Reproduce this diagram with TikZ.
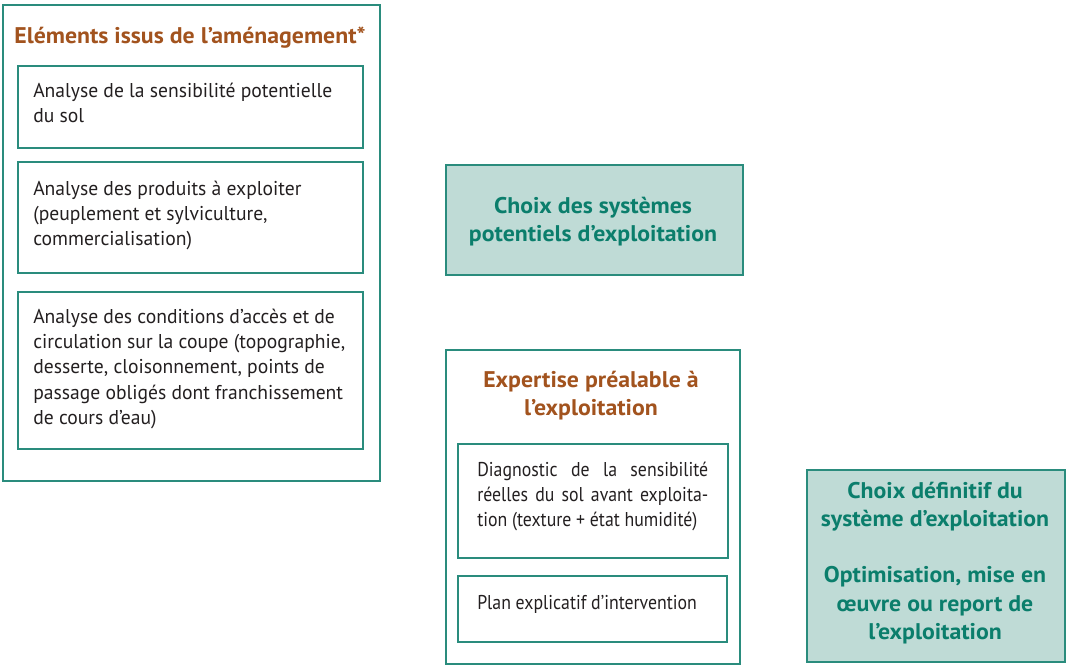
\documentclass[tikz,border=0pt]{standalone}
\usepackage{fontspec}
\setmainfont[FakeStretch=0.98,BoldFeatures={FakeStretch=1.05}]{PT Sans}
\newfontfamily\diagfont[FakeStretch=0.89]{PT Sans}
\definecolor{tealline}{HTML}{2A8C7D}
\definecolor{greenfill}{HTML}{BFDBD6}
\definecolor{tealtext}{HTML}{0B7E6C}
\definecolor{browntext}{HTML}{A2531E}
\definecolor{bodytext}{HTML}{231F20}
\begin{document}
\begin{tikzpicture}[x=0.75pt,y=-0.75pt,
  frame/.style={draw=tealline, line width=1.2pt, inner sep=0pt, anchor=north west},
  greenbox/.style={frame, fill=greenfill},
  body/.style={inner sep=0pt, text=bodytext, anchor=base west, font=\fontsize{15}{19.1}\selectfont},
  head/.style={inner sep=0pt, anchor=base, font=\fontsize{17}{21.2}\selectfont\bfseries},
  brownhead/.style={head, text=browntext},
  tealhead/.style={head, text=tealtext}]
\useasboundingbox (0,0) rectangle (1066,664);
% boxes
\node[frame, minimum width=282.75pt, minimum height=357pt] (outA) at (2,4) {};
\node[frame, minimum width=258.75pt, minimum height=61.5pt] (a1) at (17,65) {};
\node[frame, minimum width=258.75pt, minimum height=83.25pt] (a2) at (17,161) {};
\node[frame, minimum width=258.75pt, minimum height=117.75pt] (a3) at (17,291) {};
\node[greenbox, minimum width=222.75pt, minimum height=82.5pt] (b) at (445,164) {};
\node[frame, minimum width=220.5pt, minimum height=235.5pt] (outC) at (445,349) {};
\node[frame, minimum width=202.5pt, minimum height=85.5pt] (c1) at (457,443) {};
\node[frame, minimum width=201.75pt, minimum height=49.5pt] (c2) at (457,575) {};
\node[greenbox, minimum width=193.5pt, minimum height=144pt] (d) at (806,469) {};
% texts
\node[brownhead] (tA) at (190,43) {Eléments issus de l’aménagement*};
\node[body] (ta1) at (33,97) {\parbox[t]{250pt}{Analyse de la sensibilité potentielle\\du sol}};
\node[body] (ta2) at (33,195) {\parbox[t]{250pt}{Analyse des produits à exploiter\\(peuplement et sylviculture,\\commercialisation)}};
\node[body] (ta3) at (33,323) {\parbox[t]{250pt}{Analyse des conditions d’accès et de\\circulation sur la coupe (topographie,\\desserte, cloisonnement, points de\\passage obligés dont franchissement\\de cours d’eau)}};
\node[tealhead] (tb) at (593,213) {\parbox[t]{210pt}{\centering Choix des systèmes\\potentiels d’exploitation}};
\node[brownhead] (tC) at (591,387) {\parbox[t]{210pt}{\centering Expertise préalable à\\l’exploitation}};
\node[body] (tc1) at (477,476) {\parbox[t]{173.25pt}{\diagfont\makebox[\linewidth][s]{Diagnostic de la sensibilité}\\\makebox[\linewidth][s]{réelles du sol avant exploita-}\\\mbox{tion (texture + état humidité)}}};
\node[body] (tc2) at (477,609) {\diagfont Plan explicatif d’intervention};
\node[tealhead] (td) at (935,498) {\parbox[t]{190pt}{\centering Choix définitif du\\système d’exploitation\\\mbox{}\\Optimisation, mise en\\œuvre ou report de\\l’exploitation}};
\end{tikzpicture}
\end{document}
